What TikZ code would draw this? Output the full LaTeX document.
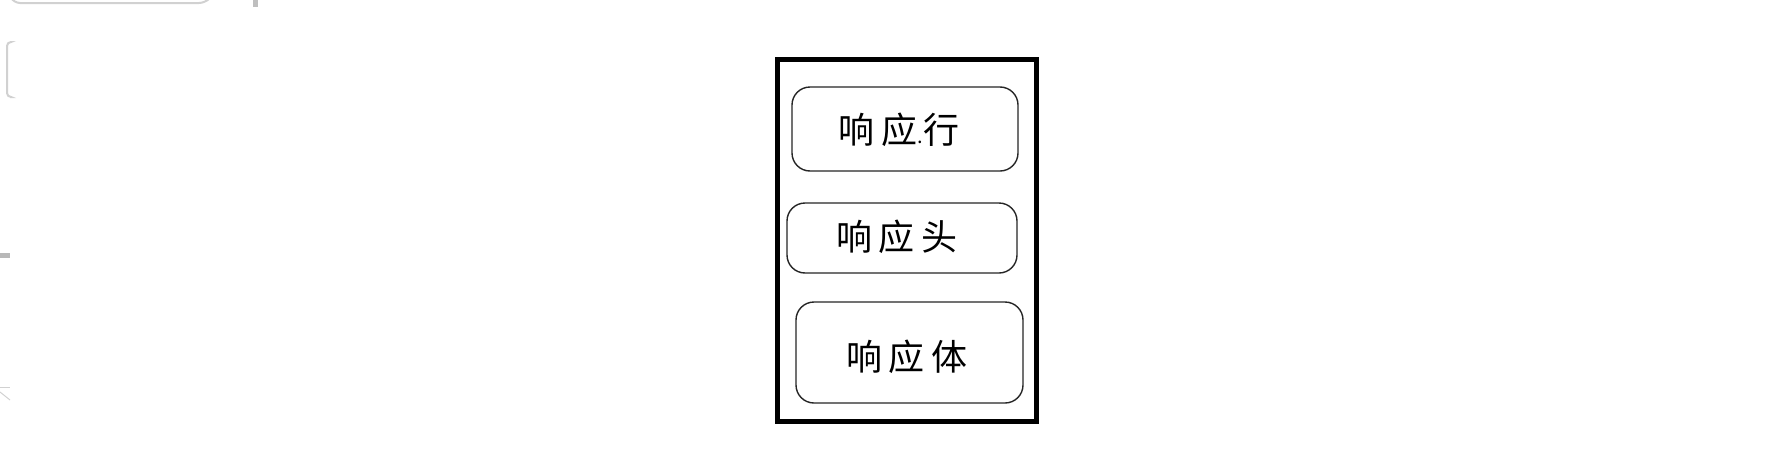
\documentclass[tikz,border=0pt]{standalone}
\usepackage{fontspec}
\newfontfamily\cjk{Noto Sans CJK SC}
\begin{document}
\begin{tikzpicture}[x=1pt,y=-1pt,
  outerbox/.style={draw=black,line width=5pt},
  partbox/.style={draw=black!85,line width=1.4pt,rounded corners=18pt},
  parttext/.style={font=\cjk\fontsize{36pt}{36pt}\selectfont,inner sep=0pt},
  ghost/.style={draw=black!18,line width=2pt}]
\useasboundingbox (0,0) rectangle (1782,466);
\fill[white] (0,0) rectangle (1782,466);
% faint screenshot remnants at the left edge
\draw[ghost,rounded corners=6pt] (10,-4) -- (14,3) -- (205,3) -- (212,-4);
\draw[ghost,line width=5pt,draw=black!25] (255,0) -- (255,7);
\draw[ghost,rounded corners=4pt] (10,42) -- (7,42) -- (7,97) -- (10,97);
\draw[ghost,line width=5pt,draw=black!28] (0,255) -- (10,255);
\draw[ghost,line width=1pt] (0,387) -- (10,387);
\draw[ghost,line width=1pt] (0,392) -- (10,400);
% outer frame
\draw[outerbox] (777.5,59.5) rectangle (1036,421);
% inner parts
\draw[partbox] (792,87) rectangle (1018,171);
\draw[partbox] (787,203) rectangle (1017,273);
\draw[partbox] (796,302) rectangle (1023,403);
\node[parttext] (row) at (899,130) {响\kern7pt 应{\fontsize{20pt}{20pt}\selectfont.}行};
\node[parttext] (head) at (897,237) {响\kern7pt 应\kern7pt 头};
\node[parttext] (body) at (907,357) {响\kern7pt 应\kern7pt 体};
\end{tikzpicture}
\end{document}
